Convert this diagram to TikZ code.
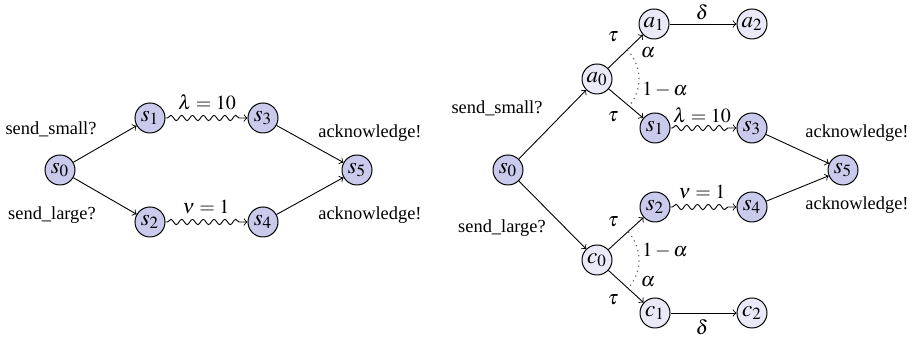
\documentclass[tikz,border=0pt]{standalone}
\usepackage{mathptmx}
\usepackage{fontspec}
\setmainfont{Liberation Serif}
\usetikzlibrary{decorations.pathmorphing}
\definecolor{darkst}{RGB}{202,202,236}
\definecolor{lightst}{RGB}{233,233,247}
\begin{document}
\begin{tikzpicture}[x=0.5pt,y=-0.5pt,
  every node/.style={font=\fontsize{9.2}{11}\selectfont},
  st/.style={circle,draw,line width=0.5pt,minimum size=15pt,inner sep=0pt,font=\fontsize{11.5}{13}\selectfont},
  dst/.style={st,fill=darkst},
  lst/.style={st,fill=lightst},
  arr/.style={->,line width=0.45pt},
  wavy/.style={->,line width=0.45pt,decorate,decoration={snake,amplitude=1.3pt,segment length=5.4pt,post length=2.5pt,pre length=1pt}},
  lbl/.style={inner sep=0pt},
  mlbl/.style={inner sep=0pt,font=\fontsize{10}{12}\selectfont}]
\useasboundingbox (0,0) rectangle (916,340);
% left diagram
\node[dst] (L0) at (60,170) {$s_0$};
\node[dst] (L1) at (150,118) {$s_1$};
\node[dst] (L2) at (150,222) {$s_2$};
\node[dst] (L3) at (263,118) {$s_3$};
\node[dst] (L4) at (263,222) {$s_4$};
\node[dst] (L5) at (357,170) {$s_5$};
\draw[arr] (L0) -- (L1);
\draw[arr] (L0) -- (L2);
\draw[wavy] (L1) -- (L3);
\draw[wavy] (L2) -- (L4);
\draw[arr] (L3) -- (L5);
\draw[arr] (L4) -- (L5);
\node[lbl] (Lss) at (51,129) {send\_small?};
\node[lbl] (Lsl) at (52,215) {send\_large?};
\node[mlbl] (Llam) at (207,102) {$\lambda = 10$};
\node[mlbl] (Lnu) at (206,207) {$\nu = 1$};
\node[lbl] (Lack1) at (370,133) {acknowledge!};
\node[lbl] (Lack2) at (370,215) {acknowledge!};
% right diagram
\node[dst] (R0) at (508,170) {$s_0$};
\node[lst] (A0) at (597,79) {$a_0$};
\node[lst] (A1) at (654,24) {$a_1$};
\node[lst] (A2) at (752,24) {$a_2$};
\node[dst] (R1) at (655,128) {$s_1$};
\node[dst] (R3) at (752,128) {$s_3$};
\node[dst] (R5) at (843,170) {$s_5$};
\node[dst] (R2) at (655,207) {$s_2$};
\node[dst] (R4) at (752,207) {$s_4$};
\node[lst] (C0) at (597,260) {$c_0$};
\node[lst] (C1) at (655,313) {$c_1$};
\node[lst] (C2) at (752,313) {$c_2$};
\draw[arr] (R0) -- (A0);
\draw[arr] (R0) -- (C0);
\draw[arr] (A0) -- (A1);
\draw[arr] (A0) -- (R1);
\draw[arr] (A1) -- (A2);
\draw[wavy] (R1) -- (R3);
\draw[arr] (R3) -- (R5);
\draw[arr] (C0) -- (R2);
\draw[arr] (C0) -- (C1);
\draw[arr] (C1) -- (C2);
\draw[wavy] (R2) -- (R4);
\draw[arr] (R4) -- (R5);
\draw[dotted,black!60,line width=0.6pt] ([shift={(44:21pt)}]A0.center) arc[start angle=44,end angle=-40,radius=21pt];
\draw[dotted,black!60,line width=0.6pt] ([shift={(42:21pt)}]C0.center) arc[start angle=42,end angle=-42,radius=21pt];
\node[lbl] (Rss) at (497,108) {send\_small?};
\node[lbl] (Rsl) at (502,228) {send\_large?};
\node[mlbl] (t1) at (613,37) {$\tau$};
\node[mlbl] (t2) at (613,117) {$\tau$};
\node[mlbl] (t3) at (613,222) {$\tau$};
\node[mlbl] (t4) at (613,300) {$\tau$};
\node[mlbl] (al1) at (648,53) {$\alpha$};
\node[mlbl] (oa1) at (665,90) {$1-\alpha$};
\node[mlbl] (oa2) at (665,251) {$1-\alpha$};
\node[mlbl] (al2) at (648,282) {$\alpha$};
\node[mlbl] (d1) at (702,12) {$\delta$};
\node[mlbl] (d2) at (702,327) {$\delta$};
\node[mlbl] (Rlam) at (702,115) {$\lambda = 10$};
\node[mlbl] (Rnu) at (702,192) {$\nu = 1$};
\node[lbl] (Rack1) at (857,133) {acknowledge!};
\node[lbl] (Rack2) at (857,205) {acknowledge!};
\end{tikzpicture}
\end{document}
